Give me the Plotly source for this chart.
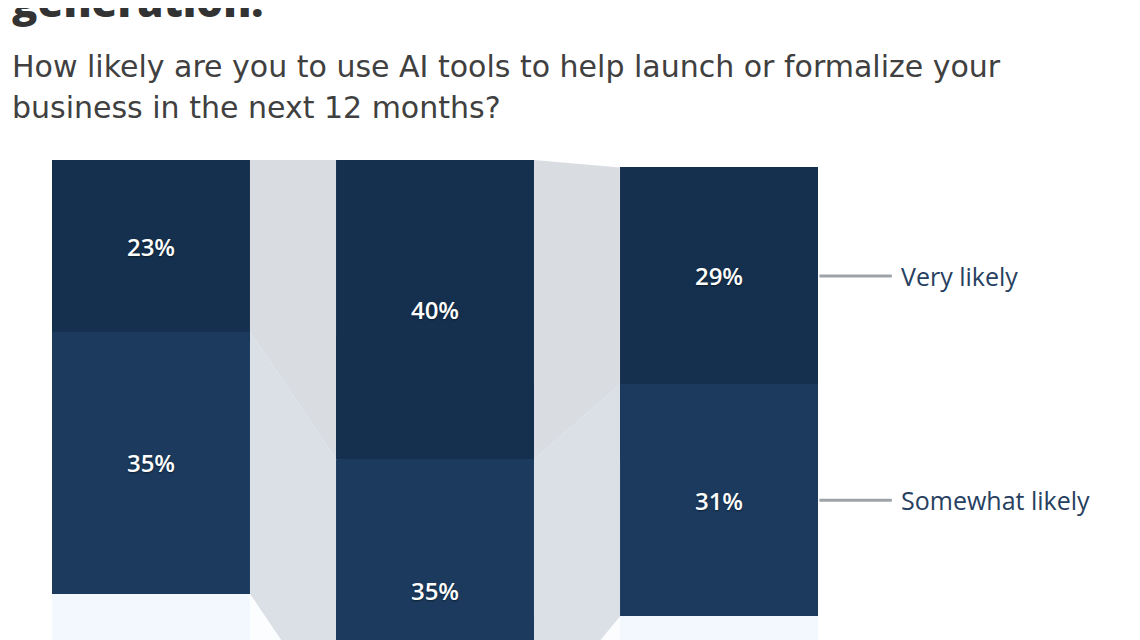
import plotly.graph_objects as go

# ---- data ----
groups = ["Group A", "Group B", "Group C"]
very_likely = [23, 40, 29]
somewhat_likely = [35, 35, 31]
less_likely = [42, 25, 39]

series_names = ["Less likely", "Somewhat likely", "Very likely"]
show_values = [False, True, True]
title_text = "generation."
subtitle_lines = [
    "How likely are you to use AI tools to help launch or formalize your",
    "business in the next 12 months?",
]

# ---- style ----
bar_colors = ["#f3f8fe", "#1b3a5d", "#15304e"]
conn_colors = ["#fcfdfe", "#dbe0e7", "#d9dce1"]
label_color = "#27405f"
FONT = "Open Sans"
SUB_FONT = "DejaVu Sans"

OFF = 8  # page offset of the figure inside the browser window
W, H = 1140 - OFF, 640 - OFF
TOP = 160 - OFF
bar_w = 0.697
x = list(range(len(groups)))
series = [less_likely, somewhat_likely, very_likely]

fig = go.Figure()

# connectors between adjacent bars (drawn from the stacked values)
bottoms = [[0] * len(groups)]
for s in series[:-1]:
    bottoms.append([b + v for b, v in zip(bottoms[-1], s)])
for k, s in enumerate(series):
    for i in range(len(groups) - 1):
        b0, b1 = bottoms[k][i], bottoms[k][i + 1]
        t0, t1 = b0 + s[i], b1 + s[i + 1]
        xr, xl = x[i] + bar_w / 2, x[i + 1] - bar_w / 2
        fig.add_trace(go.Scatter(
            x=[xr, xl, xl, xr, xr], y=[t0, t1, b1, b0, t0],
            fill="toself", fillcolor=conn_colors[k], mode="none",
            hoverinfo="skip", showlegend=False,
        ))

for k, s in enumerate(series):
    fig.add_trace(go.Bar(
        x=x, y=s, name=series_names[k], width=bar_w,
        marker=dict(color=bar_colors[k], line=dict(width=0)),
        text=[f"{v}%" for v in s] if show_values[k] else None,
        textposition="inside" if show_values[k] else "none",
        insidetextanchor="middle", textangle=0,
        textfont=dict(family=FONT, size=24, color="white", weight=600,
                      shadow="0px 1px 2px rgba(0,0,0,0.45)"),
        showlegend=False, hoverinfo="skip",
    ))

# right-side labels next to the last bar
last = len(groups) - 1
x_edge = x[last] + bar_w / 2
for k, s in enumerate(series):
    if not show_values[k]:
        continue
    mid = bottoms[k][last] + s[last] / 2
    fig.add_shape(type="line", x0=x_edge + 0.005, x1=x_edge + 0.26, y0=mid, y1=mid,
                  line=dict(color="#9ea3a8", width=3))
    fig.add_annotation(x=x_edge + 0.285, y=mid, text=series_names[k], showarrow=False,
                       xanchor="left", yanchor="middle",
                       font=dict(family=FONT, size=25, color=label_color, weight=400))

plot_h = H - TOP
px_per = 7.48
y_lo = 100 - plot_h / px_per


def py(ypx):
    return 1 + (TOP - (ypx - OFF)) / plot_h


fig.add_annotation(xref="paper", yref="paper", x=(10 - OFF) / W, y=py(1), text=title_text,
                   showarrow=False, xanchor="left", yanchor="middle",
                   font=dict(family=FONT, size=42, color="#333333", weight=800))
for j, (line, yc) in enumerate(zip(subtitle_lines, [66, 107])):
    fig.add_annotation(xref="paper", yref="paper", x=(10 - OFF) / W, y=py(yc), text=line,
                       showarrow=False, xanchor="left", yanchor="middle",
                       font=dict(family=SUB_FONT, size=30, color="#404040", weight=400))

x0 = -(151 - OFF) / 284
fig.update_layout(
    width=W, height=H, barmode="stack",
    margin=dict(l=0, r=0, t=TOP, b=0),
    paper_bgcolor="white", plot_bgcolor="white",
    xaxis=dict(range=[x0, x0 + W / 284], visible=False, fixedrange=True),
    yaxis=dict(range=[y_lo, 100], visible=False, fixedrange=True),
)

fig.write_html("out.html", config={"displayModeBar": False})
